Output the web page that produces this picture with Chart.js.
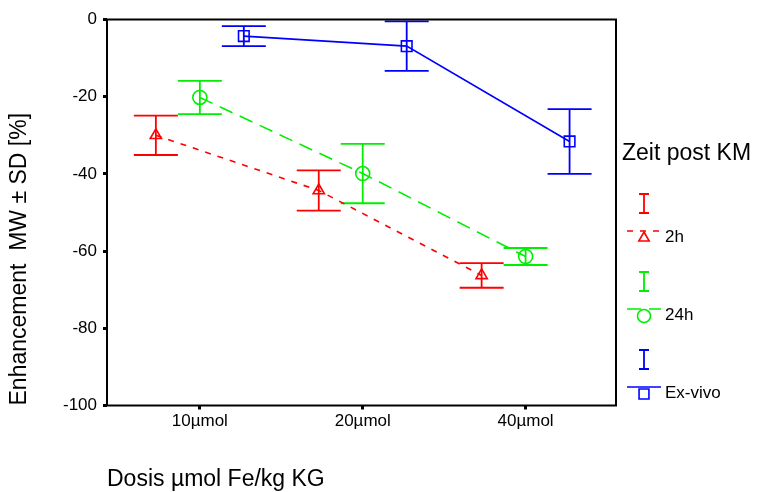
<!DOCTYPE html>
<html>
<head>
<meta charset="utf-8">
<script src="https://cdn.jsdelivr.net/npm/chart.js@4.4.1/dist/chart.umd.min.js"></script>
<style>
  html, body { margin: 0; padding: 0; background: #fff; }
</style>
</head>
<body>
<canvas id="myChart" width="758" height="492"></canvas>
<script>
// doses on the x axis, one group of three points per dose
var doses = ['10µmol', '20µmol', '40µmol'];
var yTicks = [0, -20, -40, -60, -80, -100];
var seriesNames = ['2h', '24h', 'Ex-vivo'];

// enhancement mean (MW) and standard deviation per dose
var mean2h = [-30.0, -44.3, -66.3];
var sd2h = [5.1, 5.2, 3.2];
var mean24h = [-20.2, -39.9, -61.4];
var sd24h = [4.3, 7.7, 2.2];
var meanExVivo = [-4.3, -6.9, -31.6];
var sdExVivo = [2.6, 6.4, 8.4];

var FONT = '"Liberation Sans", Arial, sans-serif';
var groupShift = [-0.27, 0, 0.27]; //side by side inside each dose group
var colors = ['#ff0000', '#00ee00', '#0000ff'];
var dashes = [[6, 7], [14, 8], []];
var markers = ['triangle', 'circle', 'rect'];
var markerSize = [6.5, 7, 7.5];

function makeSeries(idx, means, sds){
  return {
    label: seriesNames[idx],
    data: means.map(function(m, i){ return {x: i + 1 + groupShift[idx], y: m}; }),
    sd: sds,
    borderColor: colors[idx],
    borderWidth: 1.6,
    borderDash: dashes[idx],
    pointStyle: markers[idx],
    pointRadius: markerSize[idx],
    pointBorderWidth: 1.6,
    pointBorderColor: colors[idx],
    pointBackgroundColor: 'rgba(0,0,0,0)',
    fill: false,
    tension: 0
  };
}

// whiskers: mean +/- SD with wide caps
var errorBars = {
  id: 'errorBars',
  beforeDatasetsDraw: function(chart){
    var ctx = chart.ctx;
    var xs = chart.scales.x, ys = chart.scales.y;
    ctx.save();
    ctx.lineWidth = 1.8;
    chart.data.datasets.forEach(function(ds){
      ctx.strokeStyle = ds.borderColor;
      ds.data.forEach(function(p, i){
        var x = xs.getPixelForValue(p.x);
        var hi = ys.getPixelForValue(p.y + ds.sd[i]);
        var lo = ys.getPixelForValue(p.y - ds.sd[i]);
        ctx.beginPath();
        ctx.moveTo(x, hi); ctx.lineTo(x, lo);
        ctx.moveTo(x - 22, hi); ctx.lineTo(x + 22, hi);
        ctx.moveTo(x - 22, lo); ctx.lineTo(x + 22, lo);
        ctx.stroke();
      });
    });
    ctx.restore();
  },
  afterDatasetsDraw: function(chart){
    // closed frame round the plot
    var a = chart.chartArea, ctx = chart.ctx;
    ctx.save();
    ctx.strokeStyle = '#000';
    ctx.lineWidth = 2;
    ctx.strokeRect(a.left, a.top, a.right - a.left, a.bottom - a.top);
    ctx.restore();
  }
};

var sideLegend = {
  id: 'sideLegend',
  afterDraw: function(chart){
    var ctx = chart.ctx;
    ctx.save();
    ctx.fillStyle = '#000';
    ctx.textAlign = 'left';
    ctx.textBaseline = 'middle';
    ctx.font = '23px ' + FONT;
    ctx.fillText('Zeit post KM', 622, 154);
    chart.data.datasets.forEach(function(ds, i){
      var top = 194 + i * 78;
      var cx = 644;
      ctx.strokeStyle = ds.borderColor;
      ctx.lineWidth = 1.8;
      ctx.setLineDash([]);
      ctx.beginPath();
      ctx.moveTo(cx, top); ctx.lineTo(cx, top + 19);
      ctx.moveTo(cx - 5, top); ctx.lineTo(cx + 5, top);
      ctx.moveTo(cx - 5, top + 19); ctx.lineTo(cx + 5, top + 19);
      ctx.stroke();
      ctx.lineWidth = 1.6;
      ctx.setLineDash(ds.borderDash);
      ctx.beginPath();
      ctx.moveTo(627, top + 37); ctx.lineTo(661, top + 37);
      ctx.stroke();
      ctx.setLineDash([]);
      ctx.fillStyle = 'rgba(0,0,0,0)';
      Chart.helpers.drawPoint(ctx, {pointStyle: ds.pointStyle, radius: ds.pointRadius - 0.5, borderWidth: 1.6, rotation: 0}, cx, top + 44);
      ctx.fillStyle = '#000';
      ctx.font = '17px ' + FONT;
      ctx.fillText(ds.label, 665, top + 43);
    });
    ctx.restore();
  }
};

var ctx = document.getElementById('myChart').getContext('2d');
var chart = new Chart(ctx, {
  type: 'line',
  data: {
    datasets: [
      makeSeries(0, mean2h, sd2h),
      makeSeries(1, mean24h, sd24h),
      makeSeries(2, meanExVivo, sdExVivo)
    ]
  },
  options: {
    responsive: false,
    animation: false,
    layout: {padding: {top: 19.5, right: 142, left: 0, bottom: 0}},
    plugins: {legend: {display: false}, tooltip: {enabled: false}},
    scales: {
      x: {
        type: 'linear',
        min: 0.43,
        max: 3.555,
        afterBuildTicks: function(scale){
          scale.ticks = doses.map(function(d, i){ return {value: i + 1}; });
        },
        afterFit: function(scale){ scale.height = 86.5; },
        border: {display: false},
        grid: {drawOnChartArea: false, tickLength: 4, tickWidth: 3, color: '#000'},
        ticks: {
          color: '#000', font: {family: FONT, size: 17}, padding: 2, maxRotation: 0,
          callback: function(v){ return doses[v - 1]; }
        },
        title: {
          display: true, text: 'Dosis µmol Fe/kg KG', align: 'start', color: '#000',
          font: {family: FONT, size: 23, lineHeight: 1}, padding: {top: 0, bottom: 1}
        }
      },
      y: {
        min: -100,
        max: 0,
        afterBuildTicks: function(scale){
          scale.ticks = yTicks.map(function(v){ return {value: v}; });
        },
        afterFit: function(scale){ scale.width = 107; },
        border: {display: false},
        grid: {drawOnChartArea: false, tickLength: 4, tickWidth: 3, color: '#000'},
        ticks: {color: '#000', font: {family: FONT, size: 17}, padding: 6},
        title: {
          display: true, text: 'Enhancement  MW ± SD [%]', align: 'start', color: '#000',
          font: {family: FONT, size: 23, lineHeight: 1}, padding: {top: 8, bottom: 0}
        }
      }
    }
  },
  plugins: [errorBars, sideLegend]
});
</script>
</body>
</html>
